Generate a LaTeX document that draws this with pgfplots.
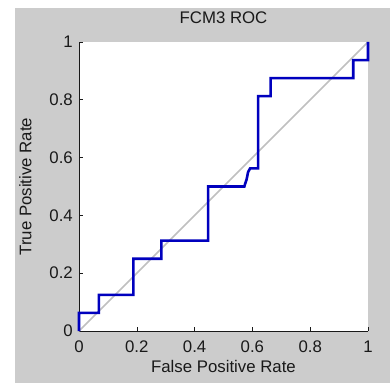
\documentclass[border=0pt]{standalone}
\usepackage{fontspec}
\setmainfont{Liberation Sans}
\usepackage{pgfplots}
\pgfplotsset{compat=1.18}
\definecolor{figgray}{RGB}{204,204,204}
\definecolor{rocblue}{RGB}{0,0,190}
\definecolor{diaggray}{RGB}{192,192,192}
\definecolor{txt}{RGB}{25,25,25}
\begin{document}
\begin{tikzpicture}[x=1bp,y=1bp]
\path[use as bounding box] (0,0) rectangle (390,383);
\fill[white] (0,0) rectangle (390,383);
\fill[figgray] (15,0) rectangle (390,375);
\begin{axis}[
  at={(79bp,52bp)}, anchor=south west,
  width=289bp, height=289bp, scale only axis,
  xmin=0, xmax=1, ymin=0, ymax=1,
  axis x line*=bottom, axis y line*=left,
  axis line style={txt, line width=0.7pt},
  axis background/.style={fill=white},
  xtick={0,0.2,0.4,0.6,0.8,1}, ytick={0,0.2,0.4,0.6,0.8,1},
  tick align=inside, major tick length=3.5bp,
  tick style={txt, line width=0.6pt},
  /pgf/number format/assume math mode=true,
  tick label style={font=\fontsize{16.8bp}{20bp}\selectfont, text=txt},
  xticklabel style={anchor=base, yshift=-21bp, inner sep=0pt},
  yticklabel style={anchor=east, xshift=-6bp, inner sep=0pt},
  title={FCM3 ROC},
  title style={at={(axis description cs:0.5,1.045)}, anchor=base, inner sep=0pt, font=\fontsize{16.8bp}{20bp}\selectfont, text=txt},
  xlabel={False Positive Rate},
  xlabel style={at={(axis description cs:0.5,-0.1453)}, anchor=base, inner sep=0pt, font=\fontsize{16.8bp}{20bp}\selectfont, text=txt},
  ylabel={True Positive Rate},
  ylabel style={at={(axis description cs:-0.1644,0.5)}, anchor=base, inner sep=0pt, font=\fontsize{16.8bp}{20bp}\selectfont, text=txt},
  clip=false,
]
\addplot[diaggray, line width=1.5bp] coordinates {(0,0) (1,1)};
\addplot[rocblue, line width=2.6bp, line join=miter] coordinates {
(0,0) (0,0.0625) (0.069,0.0625) (0.069,0.125) (0.188,0.125) (0.188,0.25)
(0.285,0.25) (0.285,0.3125) (0.447,0.3125) (0.447,0.5) (0.572,0.5)
(0.580,0.525) (0.585,0.55) (0.592,0.5625) (0.620,0.5625) (0.620,0.8125)
(0.663,0.8125) (0.663,0.875) (0.949,0.875) (0.949,0.9375) (1,0.9375) (1,1)};
\end{axis}
\end{tikzpicture}
\end{document}
